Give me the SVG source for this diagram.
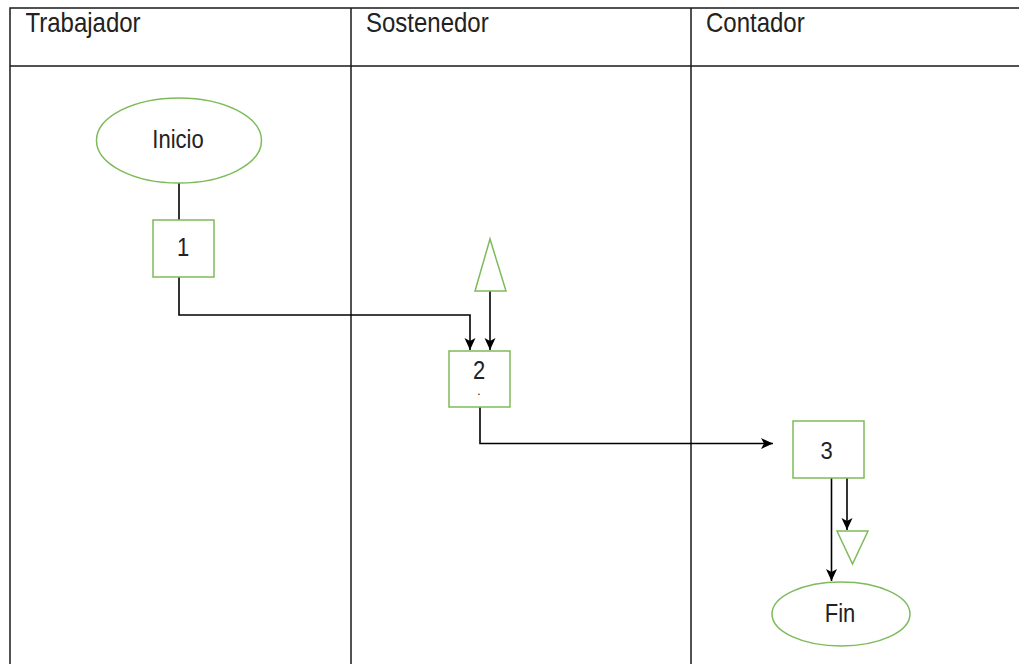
<svg xmlns="http://www.w3.org/2000/svg" width="1019" height="664" viewBox="0 0 1019 664">
<style>
.lane{fill:none;stroke:#1a1a1a;stroke-width:1.5}
.node{fill:#ffffff;stroke:#7dbb5a;stroke-width:1.5}
.edge{fill:none;stroke:#000000;stroke-width:1.6}
.hdr{font-family:"Liberation Sans",Arial,sans-serif;font-size:24px;fill:#222222}
.lbl{font-family:"Liberation Sans",Arial,sans-serif;font-size:22px;fill:#222222;text-anchor:middle}
</style>
<defs>
<marker id="arr" viewBox="0 0 12 12" refX="12" refY="6" markerWidth="12" markerHeight="12" markerUnits="userSpaceOnUse" orient="auto">
<path d="M0,0.5 L12,6 L0,11.5 L3,6 Z" fill="#000000"/>
</marker>
</defs>
<rect width="1019" height="664" fill="#ffffff"/>
<g id="lanes">
<path class="lane" d="M10,664 V8 H1019 M10,66 H1019 M351,8 V664 M691,8 V664"/>
<text class="hdr" transform="translate(25.5,31.7) scale(1,1.13)">Trabajador</text>
<text class="hdr" transform="translate(366,31.7) scale(1,1.13)">Sostenedor</text>
<text class="hdr" transform="translate(706,31.7) scale(1,1.13)">Contador</text>
</g>
<g id="connectors">
<path class="edge" d="M179,183 V220"/>
<path class="edge" d="M179,277 V315 H470 V350" marker-end="url(#arr)"/>
<path class="edge" d="M490,291 V350" marker-end="url(#arr)"/>
<path class="edge" d="M480,407 V443.5 H773" marker-end="url(#arr)"/>
<path class="edge" d="M831.5,478 V581" marker-end="url(#arr)"/>
<path class="edge" d="M847,478 V530" marker-end="url(#arr)"/>
</g>
<g id="inicio">
<ellipse class="node" cx="179" cy="140.5" rx="82.5" ry="42.5"/>
<text class="lbl" transform="translate(178,147.7) scale(1,1.17)">Inicio</text>
</g>
<g id="n1">
<rect class="node" x="153" y="220" width="61" height="57"/>
<text class="lbl" transform="translate(183,256) scale(1,1.17)">1</text>
</g>
<g id="tri-up">
<polygon class="node" points="490,239 475,291 506,291"/>
</g>
<g id="n2">
<rect class="node" x="449" y="351" width="61" height="56"/>
<text class="lbl" transform="translate(479,379) scale(1,1.15)">2</text>
<text class="lbl" style="font-size:12px" transform="translate(479,395)">.</text>
</g>
<g id="n3">
<rect class="node" x="793" y="421" width="71" height="57"/>
<text class="lbl" transform="translate(826.5,458.5) scale(1,1.1)">3</text>
</g>
<g id="tri-down">
<polygon class="node" points="837,531 868,531 852.5,564"/>
</g>
<g id="fin">
<ellipse class="node" cx="841" cy="614" rx="69" ry="32"/>
<text class="lbl" transform="translate(840,622.3) scale(1,1.17)">Fin</text>
</g>
</svg>
